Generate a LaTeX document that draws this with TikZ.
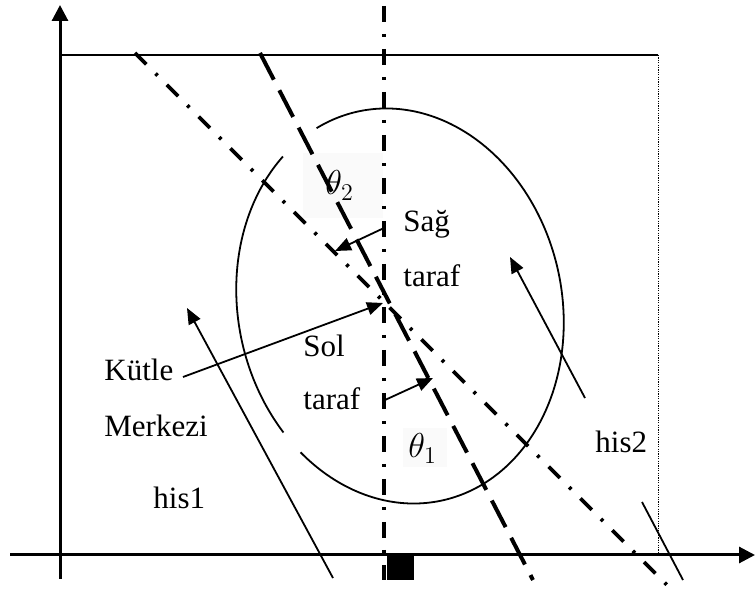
\documentclass[tikz,border=0pt]{standalone}
\usepackage{fontspec}
\setmainfont{Liberation Serif}
\usetikzlibrary{arrows.meta}
\begin{document}
\begin{tikzpicture}[x=0.5pt,y=-0.5pt,
  lbl/.style={anchor=base west, inner sep=0pt, font=\fontsize{15.5}{18}\selectfont},
  axisline/.style={line width=1.5pt, -{Triangle[length=8pt,width=8pt]}},
  thinarrow/.style={line width=0.9pt, -{Triangle[length=8pt,width=6.5pt]}},
  thinline/.style={line width=0.9pt},
  dashdotv/.style={line width=2.1pt, dash pattern=on 8pt off 6pt on 1.5pt off 6pt},
  dashdotd/.style={line width=1.8pt, dash pattern=on 8pt off 6.5pt on 1.5pt off 6.5pt},
  longdash/.style={line width=2pt, dash pattern=on 15pt off 6pt},
  thetabg/.style={fill=black!2, draw=none},
  thetalbl/.style={anchor=base west, inner sep=0pt, font=\fontsize{17}{19}\selectfont},
  ell/.style={line width=0.9pt}
]
\useasboundingbox (0,0) rectangle (755,592);

% theta label backgrounds
\fill[thetabg] (303,153) rectangle (383,218);
\fill[thetabg] (403,428) rectangle (447,467);
\node[thetalbl] (th2) at (325,195) {$\theta_2$};
\node[thetalbl] (th1) at (408,458) {$\theta_1$};

% axes
\coordinate (yb) at (60,579);
\coordinate (yt) at (60,5);
\coordinate (xl) at (10,555);
\coordinate (xr) at (755,555);
\draw[axisline] (yb) -- (yt);
\draw[axisline] (xl) -- (xr);

% box
\coordinate (bl) at (60,55);
\coordinate (br) at (658,55);
\coordinate (bb) at (658,555);
\draw[line width=1pt] (bl) -- (br);
\draw[line width=0.5pt, dash pattern=on 0.6pt off 0.6pt] (br) -- (bb);

% ellipse with two gaps
\draw[ell] plot[domain=121:210, samples=70, smooth]
  ({400 + 162*cos(\x)*0.9781 - 199*sin(\x)*0.2079}, {306 - 162*cos(\x)*0.2079 - 199*sin(\x)*0.9781});
\draw[ell] plot[domain=218:466, samples=180, smooth]
  ({400 + 162*cos(\x)*0.9781 - 199*sin(\x)*0.2079}, {306 - 162*cos(\x)*0.2079 - 199*sin(\x)*0.9781});

% lines
\coordinate (vt) at (384,6);
\coordinate (vb) at (384,580);
\coordinate (bt) at (135,53);
\coordinate (bend) at (674,592);
\coordinate (ct) at (260,53);
\coordinate (cb) at (533,580);
\draw[dashdotv] (vt) -- (vb);
\draw[dashdotd] (bt) -- (bend);
\draw[longdash] (ct) -- (cb);

% center of mass
\coordinate (cm) at (383,303);

% texts
\node[lbl] (kutle) at (104,381) {Kütle};
\node[lbl] (merkezi) at (104,437) {Merkezi};
\node[lbl] (his1) at (153,509) {his1};
\node[lbl] (sag) at (403,232) {Sağ};
\node[lbl] (taraf1) at (403,287) {taraf};
\node[lbl] (sol) at (303,357) {Sol};
\node[lbl] (taraf2) at (303,410) {taraf};
\node[lbl] (his2) at (595,453) {his2};

% arrows
\coordinate (ks) at (183,377);
\draw[thinarrow] (ks) -- (cm);
\coordinate (h1s) at (333,578);
\coordinate (h1e) at (187,308);
\draw[thinarrow] (h1s) -- (h1e);
\coordinate (h2s) at (585,398);
\coordinate (h2e) at (510,257);
\draw[thinarrow] (h2s) -- (h2e);
\coordinate (h3s) at (642,502);
\coordinate (h3e) at (683,580);
\draw[thinline] (h3s) -- (h3e);
\coordinate (t2s) at (384,228);
\coordinate (t2e) at (335,251);
\draw[thinarrow] (t2s) -- (t2e);
\coordinate (t1s) at (385,400);
\coordinate (t1e) at (433,378);
\draw[thinarrow] (t1s) -- (t1e);

% square
\fill (387,555) rectangle (414,580);
\end{tikzpicture}
\end{document}
